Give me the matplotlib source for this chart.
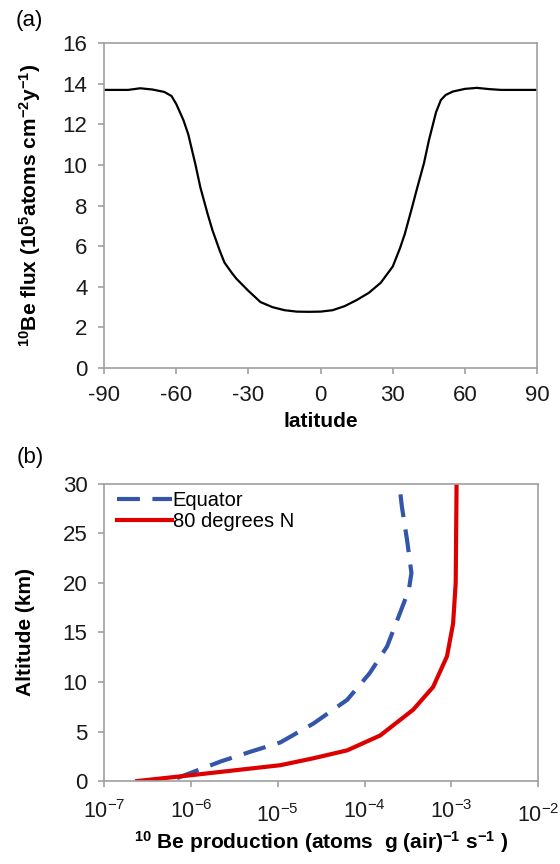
import numpy as np
import matplotlib
matplotlib.use("Agg")
import matplotlib.pyplot as plt

plt.rcParams['font.family'] = ['Liberation Sans', 'DejaVu Sans']
plt.rcParams['mathtext.fontset'] = 'custom'
plt.rcParams['mathtext.rm'] = 'Liberation Sans'
plt.rcParams['mathtext.it'] = 'Liberation Sans:italic'
plt.rcParams['mathtext.bf'] = 'Liberation Sans:bold'
plt.rcParams['axes.unicode_minus'] = False

# panel (a): 10Be flux vs latitude
latitude = [-90, -85, -80, -75, -70, -65, -62, -60, -57, -55, -52, -50, -47, -45, -42, -40,
            -37, -35, -30, -25, -20, -15, -10, -5, 0, 5, 10, 15, 20, 25, 30, 33, 35, 38,
            40, 43, 45, 48, 50, 52, 55, 60, 65, 70, 75, 80, 85, 90]
flux = [13.7, 13.7, 13.7, 13.78, 13.72, 13.6, 13.4, 13.0, 12.2, 11.5, 10.0, 8.9, 7.6, 6.8, 5.8, 5.2,
        4.7, 4.4, 3.8, 3.25, 3.0, 2.85, 2.78, 2.77, 2.78, 2.85, 3.05, 3.35, 3.7, 4.2, 5.0, 5.9, 6.6, 7.9,
        8.8, 10.1, 11.2, 12.6, 13.2, 13.45, 13.62, 13.75, 13.8, 13.74, 13.7, 13.7, 13.7, 13.7]

# panel (b): 10Be production vs altitude
alt_eq = [0.3, 1.0, 2.0, 3.0, 3.9, 5.8, 8.2, 10.9, 13.6, 17.0, 19.3, 21.0, 24.3, 27.7, 30.0]
prod_eq = [10**-6.16, 10**-5.95, 10**-5.65, 10**-5.3, 10**-4.97, 10**-4.59, 10**-4.20, 10**-3.94,
           10**-3.74, 10**-3.59, 10**-3.49, 10**-3.46, 10**-3.51, 10**-3.57, 10**-3.60]
alt_80n = [0.0, 0.6, 1.6, 2.3, 3.1, 4.6, 7.2, 9.5, 12.6, 15.9, 20.0, 30.0]
prod_80n = [10**-6.62, 10**-5.99, 10**-4.97, 10**-4.59, 10**-4.20, 10**-3.82, 10**-3.44, 10**-3.21,
            10**-3.05, 10**-2.98, 10**-2.95, 10**-2.94]
decades = [-7, -6, -5, -4, -3, -2]
lowered = [-5, -2]   # these two labels sit a little lower in the original

grey = '#a0a0a0'
tick_fs = 16
label_fs = 15

fig = plt.figure(figsize=(5.6, 8.64), dpi=100)

def style(ax):
    for s in ax.spines.values():
        s.set_color(grey)
        s.set_linewidth(1.2)
    ax.tick_params(direction='out', color=grey, length=4, width=1.2, labelsize=tick_fs,
                   labelcolor='#1a1a1a', pad=8)
    ax.tick_params(which='minor', length=0)

ax1 = fig.add_axes([0.186, 0.574, 0.773, 0.376])
ax1.plot(latitude, flux, color='black', lw=1.6)
ax1.set_xlim(-90, 90)
ax1.set_ylim(0, 16)
ax1.set_xticks(range(-90, 91, 30))
ax1.set_yticks(range(0, 17, 2))
style(ax1)
ax1.set_xlabel('latitude', fontsize=label_fs, fontweight='bold')
ax1.xaxis.set_label_coords(0.5, -0.135)
ax1.set_ylabel(r'$\mathbf{^{10}}$Be flux (10$\mathbf{^{5}}$atoms cm$\mathbf{^{-2}}$y$\mathbf{^{-1}}$)',
               fontsize=label_fs, fontweight='bold')
ax1.yaxis.set_label_coords(-0.141, 0.5)
fig.text(0.052, 0.976, '(a)', fontsize=tick_fs, ha='center', va='center')

ax2 = fig.add_axes([0.186, 0.096, 0.775, 0.344])
ax2.plot(prod_eq, alt_eq, color='#3355aa', lw=3.0, dashes=(5.5, 3), label='Equator')
ax2.plot(prod_80n, alt_80n, color='#dd0000', lw=3.0, label='80 degrees N')
ax2.set_xscale('log')
ax2.set_xlim(1e-7, 1e-2)
ax2.set_ylim(0, 30)
ax2.set_yticks(range(0, 31, 5))
ax2.set_xticks([10.0**d for d in decades])
ax2.set_xticklabels([])
style(ax2)
for d in decades:
    ax2.text(10.0**d, -0.078 if d in lowered else -0.064, '10$^{\\mathregular{%d}}$' % d,
             transform=ax2.get_xaxis_transform(), ha='center', va='top',
             fontsize=15.5, color='#1a1a1a')
ax2.set_xlabel(r'$\mathbf{^{10}}$ Be production (atoms  g (air)$\mathbf{^{-1}}$ s$\mathbf{^{-1}}$ )',
               fontsize=label_fs, fontweight='bold')
ax2.xaxis.set_label_coords(0.5, -0.16)
ax2.set_ylabel('Altitude (km)', fontsize=label_fs, fontweight='bold')
ax2.yaxis.set_label_coords(-0.159, 0.5)
ax2.legend(loc='upper left', bbox_to_anchor=(0.03, 0.975), frameon=False, fontsize=14.5,
           handlelength=2.7, handletextpad=0.05, borderpad=0, borderaxespad=0,
           labelspacing=0.1)
fig.text(0.054, 0.471, '(b)', fontsize=tick_fs, ha='center', va='center')

fig.savefig('out.png', dpi=100)
